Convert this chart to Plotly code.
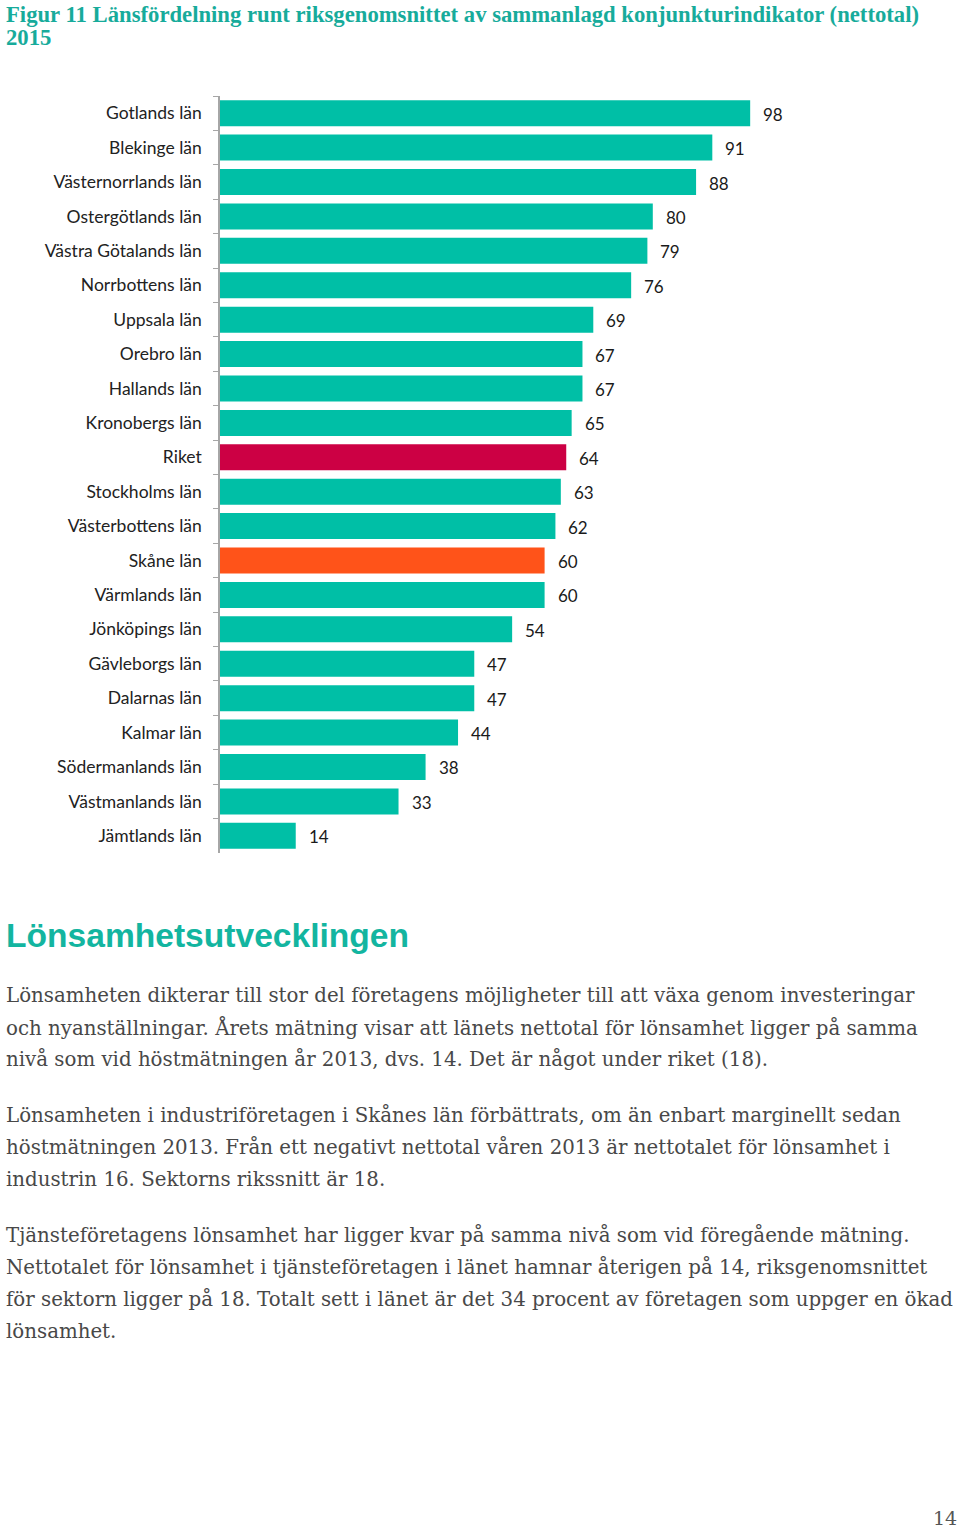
import plotly.graph_objects as go

categories = ["Gotlands län", "Blekinge län", "Västernorrlands län", "Ostergötlands län",
              "Västra Götalands län", "Norrbottens län", "Uppsala län", "Orebro län",
              "Hallands län", "Kronobergs län", "Riket", "Stockholms län",
              "Västerbottens län", "Skåne län", "Värmlands län", "Jönköpings län",
              "Gävleborgs län", "Dalarnas län", "Kalmar län", "Södermanlands län",
              "Västmanlands län", "Jämtlands län"]
values = [98, 91, 88, 80, 79, 76, 69, 67, 67, 65, 64, 63, 62, 60, 60, 54, 47, 47, 44, 38, 33, 14]

TEAL = "#00BFA6"
RED = "#CC0044"
ORANGE = "#FF5319"
colors = [RED if c == "Riket" else ORANGE if c == "Skåne län" else TEAL for c in categories]

title_lines = ["Figur 11 Länsfördelning runt riksgenomsnittet av sammanlagd konjunkturindikator (nettotal)",
               "2015"]
heading = "Lönsamhetsutvecklingen"
paragraphs = [
    ["Lönsamheten dikterar till stor del företagens möjligheter till att växa genom investeringar",
     "och nyanställningar. Årets mätning visar att länets nettotal för lönsamhet ligger på samma",
     "nivå som vid höstmätningen år 2013, dvs. 14. Det är något under riket (18)."],
    ["Lönsamheten i industriföretagen i Skånes län förbättrats, om än enbart marginellt sedan",
     "höstmätningen 2013. Från ett negativt nettotal våren 2013 är nettotalet för lönsamhet i",
     "industrin 16. Sektorns rikssnitt är 18."],
    ["Tjänsteföretagens lönsamhet har ligger kvar på samma nivå som vid föregående mätning.",
     "Nettotalet för lönsamhet i tjänsteföretagen i länet hamnar återigen på 14, riksgenomsnittet",
     "för sektorn ligger på 18. Totalt sett i länet är det 34 procent av företagen som uppger en ökad",
     "lönsamhet."],
]
page_number = "14"

W, H = 960, 1531
L, R_ = 220, 761
T, B = 96, 853
XMAX = 100


def px(x):
    return (x - L) / (R_ - L)


def py(y):
    return (B - y) / (B - T)


fig = go.Figure()
fig.add_trace(go.Bar(
    x=values, y=categories, orientation="h",
    marker=dict(color=colors, line=dict(width=0)),
    hoverinfo="skip",
))

annotations = []
for c, v in zip(categories, values):
    annotations.append(dict(x=v, y=c, xref="x", yref="y", text=str(v), showarrow=False,
                            xanchor="left", yanchor="middle", xshift=11, yshift=-1,
                            font=dict(family="Lato", size=17, color="#1a1a1a")))

for i, line in enumerate(title_lines):
    annotations.append(dict(x=px(4), y=py(15 + 23 * i), xref="paper", yref="paper", text="<b>" + line + "</b>",
                            showarrow=False, xanchor="left", yanchor="middle",
                            font=dict(family="Liberation Serif", size=22.7, color="#17AB9B")))

annotations.append(dict(x=px(4), y=py(935), xref="paper", yref="paper", text="<b>" + heading + "</b>",
                        showarrow=False, xanchor="left", yanchor="middle",
                        font=dict(family="Liberation Sans", size=33.6, color="#13B5A0")))

starts = [995, 1115, 1235]
for p, y0 in zip(paragraphs, starts):
    for j, line in enumerate(p):
        annotations.append(dict(x=px(4), y=py(y0 + 32 * j), xref="paper", yref="paper", text=line,
                                showarrow=False, xanchor="left", yanchor="middle",
                                font=dict(family="DejaVu Serif", size=19.8, color="#484848")))

annotations.append(dict(x=px(959), y=py(1518), xref="paper", yref="paper", text=page_number,
                        showarrow=False, xanchor="right", yanchor="middle",
                        font=dict(family="DejaVu Serif", size=19, color="#555555")))

fig.update_layout(
    width=W, height=H,
    margin=dict(l=L, r=W - R_, t=T, b=H - B, pad=0),
    paper_bgcolor="white", plot_bgcolor="white",
    showlegend=False,
    bargap=0.245,
    annotations=annotations,
    xaxis=dict(range=[0, XMAX], showgrid=False, zeroline=False, showticklabels=False,
               showline=False, ticks="", fixedrange=True),
    yaxis=dict(autorange="reversed", type="category", showgrid=False, zeroline=False,
               showline=True, linecolor="#A6A6A6", linewidth=1.5,
               ticks="outside", tickson="boundaries", ticklen=5, tickcolor="#A6A6A6", tickwidth=1,
               ticklabelstandoff=13,
               tickfont=dict(family="Lato", size=17.5, color="#222222"), fixedrange=True),
)

fig.write_html("out.html", config={"displayModeBar": False},
               post_script="document.body.style.margin='0';document.body.style.overflow='hidden';")
